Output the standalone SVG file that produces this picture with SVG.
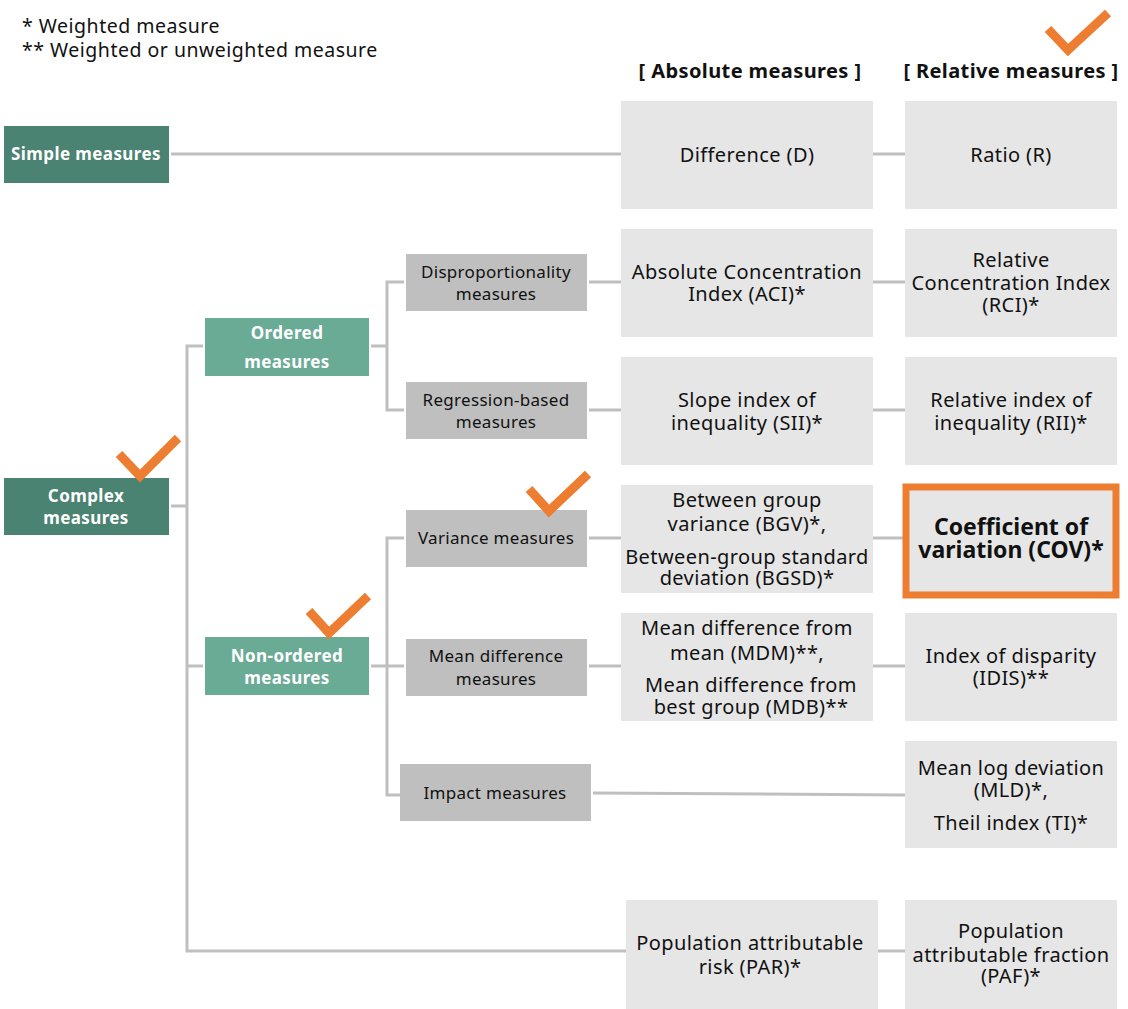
<svg xmlns="http://www.w3.org/2000/svg" width="1128" height="1009" viewBox="0 0 1128 1009">
  <defs>
    <style>
      text { font-family: "Noto Sans", "Open Sans", sans-serif; fill: #111; text-anchor: middle; }
      .legend { font-size: 19.5px; letter-spacing: 0.5px; text-anchor: start; }
      .hdr { font-size: 20px; font-weight: bold; letter-spacing: 0.4px; }
      .root { fill: #4a8372; }
      .sub { fill: #6aab96; }
      .cat { fill: #bfbfbf; }
      .leaf { fill: #e6e6e6; }
      .wt { fill: #fff; font-size: 17px; font-weight: bold; letter-spacing: 0.4px; }
      .ct { font-size: 17px; letter-spacing: 0.3px; }
      .lt { font-size: 20px; letter-spacing: 0.4px; }
      .cov { font-size: 23px; font-weight: bold; }
      .conn { fill: none; stroke: #bfbfbf; stroke-width: 3; }
      .tick { fill: none; stroke: #ed7d31; stroke-width: 9; stroke-linejoin: miter; }
    </style>
  </defs>

  <!-- legend -->
  <text class="legend" x="22" y="33">* Weighted measure</text>
  <text class="legend" x="22" y="57">** Weighted or unweighted measure</text>

  <!-- column headers -->
  <text class="hdr" x="750" y="78">[ Absolute measures ]</text>
  <text class="hdr" x="1011" y="78">[ Relative measures ]</text>

  <!-- connectors -->
  <g id="connectors">
    <path class="conn" d="M171 154H621M873 154H905"/>
    <path class="conn" d="M171 506H187M203 346H187V951H626"/>
    <path class="conn" d="M187 666H203"/>
    <path class="conn" d="M371 346H387M404 282H387V410H404"/>
    <path class="conn" d="M371 666H387M404 538H387V795H400M387 666H404"/>
    <path class="conn" d="M589 282H621M873 282H905"/>
    <path class="conn" d="M589 410H621M873 410H905"/>
    <path class="conn" d="M589 538H621M873 538H903"/>
    <path class="conn" d="M589 666H621M873 666H905"/>
    <path class="conn" d="M593 793L905 795"/>
    <path class="conn" d="M878 951H905"/>
  </g>

  <!-- tree levels -->
  <g id="simple">
    <rect class="root" x="4" y="126" width="165" height="57"/>
    <text class="wt" x="86" y="160">Simple measures</text>
  </g>
  <g id="complex">
    <rect class="root" x="4" y="478" width="165" height="57"/>
    <text class="wt" x="86" y="502">Complex</text>
    <text class="wt" x="86" y="524">measures</text>
  </g>
  <g id="ordered">
    <rect class="sub" x="205" y="318" width="164" height="58"/>
    <text class="wt" x="287" y="339">Ordered</text>
    <text class="wt" x="287" y="368">measures</text>
  </g>
  <g id="nonordered">
    <rect class="sub" x="205" y="637" width="164" height="58"/>
    <text class="wt" x="287" y="662">Non-ordered</text>
    <text class="wt" x="287" y="684">measures</text>
  </g>

  <g id="disproportionality">
    <rect class="cat" x="406" y="254" width="181" height="57"/>
    <text class="ct" x="496" y="278">Disproportionality</text>
    <text class="ct" x="496" y="300">measures</text>
  </g>
  <g id="regression">
    <rect class="cat" x="406" y="382" width="181" height="57"/>
    <text class="ct" x="496" y="406">Regression-based</text>
    <text class="ct" x="496" y="428">measures</text>
  </g>
  <g id="variance">
    <rect class="cat" x="406" y="510" width="181" height="57"/>
    <text class="ct" x="496" y="544">Variance measures</text>
  </g>
  <g id="meandiff">
    <rect class="cat" x="406" y="639" width="181" height="57"/>
    <text class="ct" x="496" y="662">Mean difference</text>
    <text class="ct" x="496" y="685">measures</text>
  </g>
  <g id="impact">
    <rect class="cat" x="400" y="764" width="191" height="57"/>
    <text class="ct" x="495" y="799">Impact measures</text>
  </g>

  <!-- absolute measures -->
  <g id="difference">
    <rect class="leaf" x="621" y="101" width="252" height="108"/>
    <text class="lt" x="747" y="162">Difference (D)</text>
  </g>
  <g id="aci">
    <rect class="leaf" x="621" y="229" width="252" height="108"/>
    <text class="lt" x="747" y="279">Absolute Concentration</text>
    <text class="lt" x="747" y="301">Index (ACI)*</text>
  </g>
  <g id="sii">
    <rect class="leaf" x="621" y="357" width="252" height="108"/>
    <text class="lt" x="747" y="407">Slope index of</text>
    <text class="lt" x="747" y="430">inequality (SII)*</text>
  </g>
  <g id="bgv">
    <rect class="leaf" x="621" y="485" width="252" height="108"/>
    <text class="lt" x="747" y="507">Between group</text>
    <text class="lt" x="747" y="531">variance (BGV)*,</text>
    <text class="lt" x="747" y="564">Between-group standard</text>
    <text class="lt" x="747" y="585">deviation (BGSD)*</text>
  </g>
  <g id="mdm">
    <rect class="leaf" x="621" y="613" width="252" height="108"/>
    <text class="lt" x="747" y="635">Mean difference from</text>
    <text class="lt" x="747" y="660">mean (MDM)**,</text>
    <text class="lt" x="751" y="692">Mean difference from</text>
    <text class="lt" x="751" y="714">best group (MDB)**</text>
  </g>
  <g id="par">
    <rect class="leaf" x="626" y="900" width="252" height="109"/>
    <text class="lt" x="750" y="950">Population attributable</text>
    <text class="lt" x="750" y="974">risk (PAR)*</text>
  </g>

  <!-- relative measures -->
  <g id="ratio">
    <rect class="leaf" x="905" y="101" width="212" height="108"/>
    <text class="lt" x="1011" y="162">Ratio (R)</text>
  </g>
  <g id="rci">
    <rect class="leaf" x="905" y="229" width="212" height="108"/>
    <text class="lt" x="1011" y="267">Relative</text>
    <text class="lt" x="1011" y="290">Concentration Index</text>
    <text class="lt" x="1011" y="312">(RCI)*</text>
  </g>
  <g id="rii">
    <rect class="leaf" x="905" y="357" width="212" height="108"/>
    <text class="lt" x="1011" y="407">Relative index of</text>
    <text class="lt" x="1011" y="430">inequality (RII)*</text>
  </g>
  <g id="cov">
    <rect class="leaf" x="906" y="487" width="210" height="108" stroke="#ed7d31" stroke-width="7"/>
    <text class="cov" x="1011" y="535">Coefficient of</text>
    <text class="cov" x="1011" y="558">variation (COV)*</text>
  </g>
  <g id="idis">
    <rect class="leaf" x="905" y="613" width="212" height="108"/>
    <text class="lt" x="1011" y="663">Index of disparity</text>
    <text class="lt" x="1011" y="685">(IDIS)**</text>
  </g>
  <g id="mld">
    <rect class="leaf" x="905" y="741" width="212" height="107"/>
    <text class="lt" x="1011" y="775">Mean log deviation</text>
    <text class="lt" x="1011" y="797">(MLD)*,</text>
    <text class="lt" x="1011" y="830">Theil index (TI)*</text>
  </g>
  <g id="paf">
    <rect class="leaf" x="905" y="900" width="212" height="109"/>
    <text class="lt" x="1011" y="938">Population</text>
    <text class="lt" x="1011" y="962">attributable fraction</text>
    <text class="lt" x="1011" y="983">(PAF)*</text>
  </g>

  <!-- highlight ticks -->
  <g id="ticks">
    <path class="tick" d="M1048 29L1068 50L1108 13"/>
    <path class="tick" d="M119 454L140 476L178 438"/>
    <path class="tick" d="M529 489L549 511L588 474"/>
    <path class="tick" d="M309 611L329 633L368 596"/>
  </g>
</svg>
